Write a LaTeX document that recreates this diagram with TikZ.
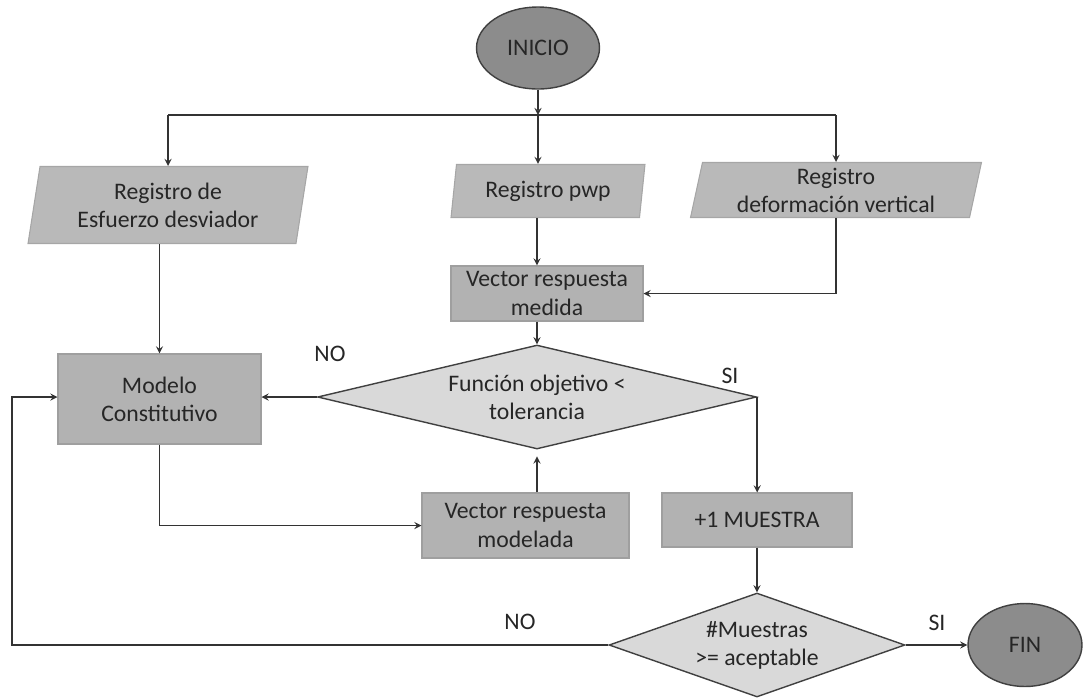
\documentclass[tikz,border=0pt]{standalone}
\usepackage{fontspec}
\setmainfont{Carlito}
\usetikzlibrary{shapes.geometric, arrows.meta}

\begin{document}
\begin{tikzpicture}[> = stealth, thick, x=0.02cm, y=-0.02cm,
    font=\fontsize{13.5}{16}\selectfont,
    every node/.style={align=center, inner sep=0pt, text=black!85},
    proceso/.style={rectangle, draw=gray!75, fill=gray!60, line width=0.6pt},
    datos/.style={trapezium, trapezium left angle=75, trapezium right angle=105,
      trapezium stretches body, draw=gray!70, fill=gray!55, line width=0.6pt},
    decision/.style={diamond, draw=black!75, fill=gray!30, line width=0.8pt},
    terminal/.style={ellipse, draw=black!75, fill=black!45, line width=0.8pt},
    linea/.style={draw=black!80}]
    \useasboundingbox (0,0) rectangle (1083,698);

    % nodos
    \node[terminal, minimum width=2.46cm, minimum height=1.64cm] (inicio) at (538,48) {INICIO};
    \node[datos, minimum width=5.6cm, minimum height=1.54cm] (esfuerzo) at (168,205) {Registro de\\Esfuerzo desviador};
    \node[datos, minimum width=3.88cm, minimum height=1.06cm] (pwp) at (548,191) {Registro pwp};
    \node[datos, minimum width=5.82cm, minimum height=1.1cm] (deform) at (836,190) {Registro\\deformación vertical};
    \node[proceso, minimum width=3.84cm, minimum height=1.1cm] (medida) at (547,293.5) {Vector respuesta\\medida};
    \node[proceso, minimum width=4.06cm, minimum height=1.8cm] (modelo) at (159.5,399) {Modelo\\Constitutivo};
    \node[decision, aspect=4.2, minimum width=8.78cm, minimum height=2.08cm] (funcion) at (537,397) {Función objetivo <\\tolerancia};
    \node[proceso, minimum width=4.14cm, minimum height=1.3cm] (modelada) at (525.5,525.5) {Vector respuesta\\modelada};
    \node[proceso, minimum width=3.8cm, minimum height=1.08cm] (muestra) at (757,520) {+1 MUESTRA};
    \node[decision, aspect=2.85, minimum width=5.92cm, minimum height=2.08cm] (muestras) at (757,645) {\#Muestras\\>= aceptable};
    \node[terminal, minimum width=2.28cm, minimum height=1.66cm] (fin) at (1025,645) {FIN};

    \coordinate (rama) at (538,115);
    \coordinate (retorno) at (12,645);

    % etiquetas
    \node (no1) at (330,354) {NO};
    \node (si1) at (730,376) {SI};
    \node (no2) at (520,622) {NO};
    \node (si2) at (937,623) {SI};

    % conectores
    \draw[linea, ->] (inicio) -- (rama);
    \draw[linea] (rama -| esfuerzo.north) -- (rama -| deform.north);
    \draw[linea, ->] (rama -| esfuerzo.north) -- (esfuerzo.north);
    \draw[linea, ->] (rama) -- (rama |- pwp.north);
    \draw[linea, ->] (rama -| deform.north) -- (deform.north);
    \draw[linea, ->] (pwp.south -| funcion.north) -- (medida.north -| funcion.north);
    \draw[linea, ->] (deform.south) |- (medida.east);
    \draw[linea, ->] (medida.south -| funcion.north) -- (funcion.north);
    \draw[linea, ->] (esfuerzo.south -| modelo.north) -- (modelo.north);
    \draw[linea, ->] (funcion.west) -- (funcion.west -| modelo.east);
    \draw[linea, ->] (funcion.east) -- (funcion.east |- muestra.north);
    \draw[linea, ->] (modelo.south) |- (modelada.west);
    \draw[linea, ->] (modelada.north -| funcion.south) -- ++(0,-36);
    \draw[linea, ->] (muestra.south) -- (muestras.north);
    \draw[linea, ->] (muestras.east) -- (fin.west);
    \draw[linea, ->] (muestras.west) -- (retorno) |- (funcion.west -| modelo.west);
\end{tikzpicture}
\end{document}
